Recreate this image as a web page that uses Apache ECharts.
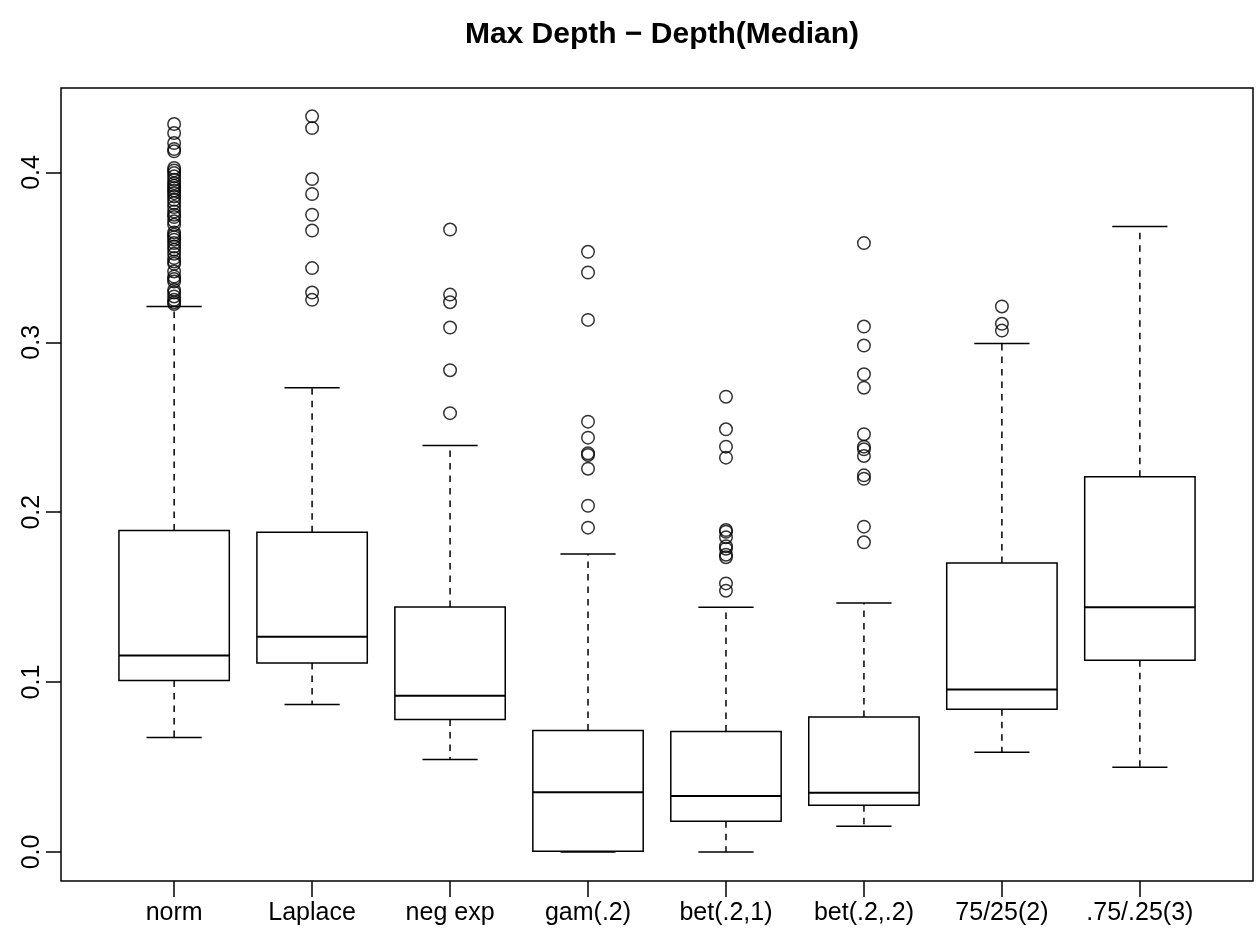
<!DOCTYPE html>
<html>
<head>
<meta charset="utf-8">
<script src="https://cdn.jsdelivr.net/npm/echarts@6/dist/echarts.min.js"></script>
<style>
    html, body { margin: 0; padding: 0; background: #fff; }
    #main { width: 1259px; height: 947px; }
</style>
</head>
<body>
<div id="main"></div>
<script>
// 分布名称
var categories = ['norm', 'Laplace', 'neg exp', 'gam(.2)', 'bet(.2,1)', 'bet(.2,.2)', '75/25(2)', '.75/.25(3)'];
// 箱线图五个统计量
var lowerWhisker = [0.0674, 0.0868, 0.0544, 0.0000, 0.0000, 0.0151, 0.0587, 0.0499];
var lowerQuartile = [0.1010, 0.1113, 0.0780, 0.0005, 0.0181, 0.0275, 0.0840, 0.1129];
var medians = [0.1157, 0.1267, 0.0919, 0.0352, 0.0330, 0.0348, 0.0957, 0.1441];
var upperQuartile = [0.1893, 0.1882, 0.1442, 0.0715, 0.0709, 0.0794, 0.1701, 0.2209];
var upperWhisker = [0.3211, 0.2732, 0.2392, 0.1754, 0.1440, 0.1465, 0.2993, 0.3682];
// 异常值
var outliers = [
    [0.4285, 0.4232, 0.4173, 0.4138, 0.4124, 0.4026, 0.4012, 0.3996, 0.3977, 0.3957,
        0.3937, 0.3922, 0.3908, 0.3894, 0.3878, 0.3859, 0.3839, 0.3820, 0.3796, 0.3770,
        0.3751, 0.3737, 0.3712, 0.3692, 0.3647, 0.3633, 0.3619, 0.3604, 0.3584, 0.3564,
        0.3545, 0.3521, 0.3496, 0.3476, 0.3462, 0.3417, 0.3387, 0.3372, 0.3358, 0.3309,
        0.3293, 0.3270, 0.3250, 0.3236, 0.3226],
    [0.4330, 0.4261, 0.3961, 0.3873, 0.3751, 0.3658, 0.3437, 0.3293, 0.3250],
    [0.3664, 0.3281, 0.3236, 0.3087, 0.2836, 0.2583],
    [0.3533, 0.3411, 0.3132, 0.2533, 0.2439, 0.2347, 0.2337, 0.2256, 0.2038, 0.1909],
    [0.2680, 0.2488, 0.2386, 0.2321, 0.1895, 0.1885, 0.1852, 0.1800, 0.1785, 0.1750,
        0.1735, 0.1581, 0.1538],
    [0.3584, 0.3093, 0.2981, 0.2812, 0.2733, 0.2459, 0.2386, 0.2370, 0.2331, 0.2217,
        0.2197, 0.1915, 0.1823],
    [0.3211, 0.3109, 0.3069],
    []
];
var yTicks = [0, 0.1, 0.2, 0.3, 0.4];

var fontName = 'Liberation Sans, Arial, sans-serif';
var boxWidth = 0.8;
var lineW = 1.5;

let boxData = [];
let pointData = [];
categories.forEach((name, i) => {
    boxData.push([i + 1, lowerWhisker[i], lowerQuartile[i], medians[i], upperQuartile[i], upperWhisker[i]]);
    outliers[i].forEach(v => {
        pointData.push([i + 1, v]);
    });
});

function renderBox(params, api) {
    let x = api.value(0);
    let half = api.size([boxWidth, 0])[0] / 2;
    let pLow = api.coord([x, api.value(1)]);
    let pQ1 = api.coord([x, api.value(2)]);
    let pMed = api.coord([x, api.value(3)]);
    let pQ3 = api.coord([x, api.value(4)]);
    let pHigh = api.coord([x, api.value(5)]);
    let cx = pMed[0];
    let solid = { stroke: '#000', lineWidth: lineW, fill: null };
    let dashed = { stroke: '#000', lineWidth: lineW, lineDash: [6.5, 6] };
    return {
        type: 'group',
        children: [
            { type: 'line', shape: { x1: cx, y1: pQ3[1], x2: cx, y2: pHigh[1] }, style: dashed },
            { type: 'line', shape: { x1: cx, y1: pQ1[1], x2: cx, y2: pLow[1] }, style: dashed },
            { type: 'line', shape: { x1: cx - half / 2, y1: pHigh[1], x2: cx + half / 2, y2: pHigh[1] }, style: solid },
            { type: 'line', shape: { x1: cx - half / 2, y1: pLow[1], x2: cx + half / 2, y2: pLow[1] }, style: solid },
            { type: 'rect', shape: { x: cx - half, y: pQ3[1], width: half * 2, height: pQ1[1] - pQ3[1] }, style: solid },
            { type: 'line', shape: { x1: cx - half, y1: pMed[1], x2: cx + half, y2: pMed[1] }, style: { stroke: '#000', lineWidth: 2 } }
        ]
    };
}

let myChart = echarts.init(document.getElementById('main'), null, { renderer: 'canvas' });
let option = {
    backgroundColor: '#fff',
    animation: false,
    textStyle: { fontFamily: fontName, color: '#000' },
    title: {
        text: 'Max Depth \u2212 Depth(Median)',
        left: 657,
        textAlign: 'center',
        top: 15,
        textStyle: { fontFamily: fontName, fontSize: 30, fontWeight: 'bold', color: '#000' }
    },
    grid: {
        left: 61,
        right: 6,
        top: 88,
        bottom: 66,
        show: true,
        borderColor: '#000',
        borderWidth: lineW,
        backgroundColor: 'transparent'
    },
    xAxis: {
        type: 'value',
        min: 0.18,
        max: 8.82,
        position: 'bottom',
        splitLine: { show: false },
        axisLine: { show: false, onZero: false },
        axisTick: {
            show: true,
            length: 16,
            customValues: [1, 2, 3, 4, 5, 6, 7, 8],
            lineStyle: { color: '#000', width: lineW }
        },
        axisLabel: {
            customValues: [1, 2, 3, 4, 5, 6, 7, 8],
            margin: 20,
            fontSize: 25,
            fontFamily: fontName,
            color: '#000',
            formatter: function(v) {
                return categories[Math.round(v) - 1] || '';
            }
        }
    },
    yAxis: {
        type: 'value',
        min: -0.01708,
        max: 0.4497,
        position: 'left',
        splitLine: { show: false },
        axisLine: { show: false, onZero: false },
        axisTick: {
            show: true,
            length: 15,
            customValues: yTicks,
            lineStyle: { color: '#000', width: lineW }
        },
        axisLabel: {
            customValues: yTicks,
            rotate: 90,
            margin: 16,
            fontSize: 25,
            fontFamily: fontName,
            color: '#000',
            formatter: function(v) {
                return v.toFixed(1);
            }
        }
    },
    series: [{
        type: 'custom',
        renderItem: renderBox,
        data: boxData,
        silent: true,
        clip: false
    }, {
        type: 'scatter',
        data: pointData,
        symbol: 'circle',
        symbolSize: 12.5,
        silent: true,
        itemStyle: {
            color: 'rgba(0,0,0,0)',
            borderColor: '#000',
            borderWidth: lineW
        }
    }]
};
if (option && typeof option === "object") {
    myChart.setOption(option, true);
}
</script>
</body>
</html>
